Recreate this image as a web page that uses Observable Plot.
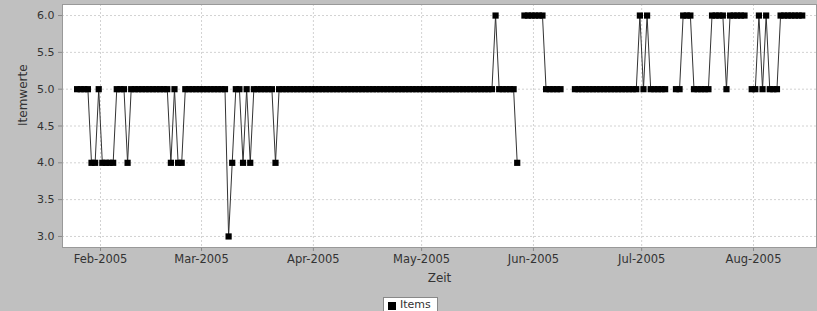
<!DOCTYPE html>
<html><head><meta charset="utf-8">
<script src="https://cdn.jsdelivr.net/npm/d3@7"></script>
<script src="https://cdn.jsdelivr.net/npm/@observablehq/plot@0.6"></script>
<style>
html,body{margin:0;padding:0;background:#c0c0c0;width:817px;height:311px;overflow:hidden;font-family:"DejaVu Sans",sans-serif;}
#chart svg{display:block;background:#c0c0c0;}
#legend{position:absolute;left:383px;top:297px;width:55px;height:14px;background:#fff;border:1px solid #888;border-bottom:none;box-sizing:border-box;}
#legend .sw{position:absolute;left:4px;top:4px;width:8px;height:8px;background:#000;}
#legend .tx{position:absolute;left:16px;top:0px;font-size:11px;color:#333;line-height:13px;}
</style></head><body>
<div id="chart"></div>
<div id="legend"><span class="sw"></span><span class="tx">Items</span></div>
<script>
// daily series starting 2005-01-25 (null = no value)
const startDate = "2005-01-25T12:00Z";
const values = [
  5,5,5,5, 4,4,5, 4,4,4,4, 5,5,5, 4,
  5,5,5,5,5,5,5,5,5,5,5,
  4,5,4,4,
  5,5,5,5,5,5,5,5,5,5,5,5,
  3,4,5,5,4,5,4,
  5,5,5,5,5,5,
  4,
  5,5,5,5,5,5,5,5,5,5, 5,5,5,5,5,5,5,5,5,5, 5,5,5,5,5,5,5,5,5,5,
  5,5,5,5,5,5,5,5,5,5, 5,5,5,5,5,5,5,5,5,5, 5,5,5,5,5,5,5,5,5,5,
  6,
  5,5,5,5,5,
  4,
  null,
  6,6,6,6,6,6,
  5,5,5,5,5,
  null,null,null,
  5,5,5,5,5,5,5,5,5,5,5,5,5,5,5,5,5,5,
  6,5,6,
  5,5,5,5,5,
  null,null,
  5,5,
  6,6,6,
  5,5,5,5,5,
  6,6,6,6,
  5,
  6,6,6,6,6,
  null,
  5,5,6,5,6,5,5,5,
  6,6,6,6,6,6,6
];
const yTicks = [3.0, 3.5, 4.0, 4.5, 5.0, 5.5, 6.0];
const xTicks = ["2005-02-01","2005-03-01","2005-04-01","2005-05-01","2005-06-01","2005-07-01","2005-08-01"];
const xDomain = ["2005-01-21T11:00Z", "2005-08-18T11:00Z"];
const yDomain = [2.85, 6.15];

const start = new Date(startDate);
const data = values.map((v, i) => ({date: d3.utcDay.offset(start, i), value: v}));
const ticksX = xTicks.map(s => new Date(s + "T00:00Z"));

const fmt = d3.utcFormat("%b-%Y");
const chart = Plot.plot({
  width: 817, height: 296,
  marginLeft: 62, marginRight: 1, marginTop: 4, marginBottom: 49,
  style: {background: "#c0c0c0", fontFamily: "DejaVu Sans, sans-serif", fontSize: "11px", color: "#333"},
  x: {type: "utc", domain: xDomain.map(s => new Date(s)), ticks: ticksX, tickFormat: fmt, tickSize: 4, tickPadding: 3, label: null},
  y: {domain: yDomain, ticks: yTicks, tickFormat: d3.format(".1f"), tickSize: 4, tickPadding: 4, label: null},
  marks: [
    Plot.frame({fill: "white", stroke: null}),
    Plot.gridY(yTicks, {stroke: "#d2d2d2", strokeOpacity: 1, strokeDasharray: "2,2"}),
    Plot.gridX(ticksX, {stroke: "#d2d2d2", strokeOpacity: 1, strokeDasharray: "2,2"}),
    Plot.axisX({ticks: ticksX, tickFormat: fmt, tickSize: 4, tickPadding: 3, stroke: "#888", fill: "#333", fontSize: 11.5, label: null}),
    Plot.axisY({ticks: yTicks, tickFormat: d3.format(".1f"), tickSize: 4, tickPadding: 4, stroke: "#888", fill: "#333", label: null}),
    Plot.line(data, {x: "date", y: "value", stroke: "#333", strokeWidth: 1}),
    Plot.dot(data.filter(d => d.value != null), {x: "date", y: "value", symbol: "square", r: 3.5, fill: "#000", stroke: null}),
    Plot.frame({stroke: "#999", strokeWidth: 1}),
    Plot.text(["Zeit"], {frameAnchor: "bottom", dy: 34, fontSize: 12, fill: "#333"}),
    Plot.text(["Itemwerte"], {frameAnchor: "left", dx: -39, rotate: -90, fontSize: 12, fill: "#333"})
  ]
});
document.getElementById("chart").appendChild(chart);
</script>
</body></html>
